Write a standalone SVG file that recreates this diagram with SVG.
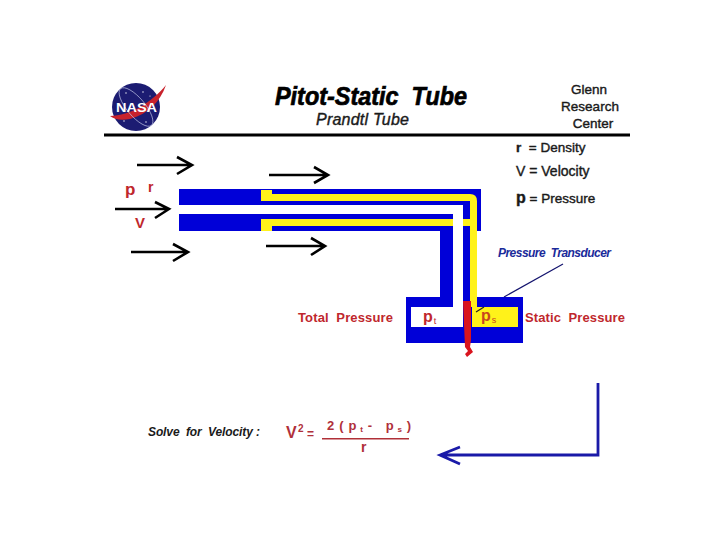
<svg xmlns="http://www.w3.org/2000/svg" width="720" height="540" viewBox="0 0 720 540">
<defs><style>
text{font-family:"Liberation Sans",Arial,sans-serif}
.b{font-weight:bold}
.k{fill:#1a1a1a;font-weight:bold}
.r{fill:#c0272d;font-weight:bold}
.e{fill:#b0303a;font-weight:bold}
.g{fill:#1a1a1a;stroke:#1a1a1a;stroke-width:.4}
.ar{fill:none;stroke:#000;stroke-width:2.6}
.blue{fill:#0000d8}
.yel{fill:#fff21a}
.st{fill:#fff}
</style></defs>
<rect width="720" height="540" fill="#fff"/>
<g id="nasa-logo">
<circle cx="136" cy="107" r="24" fill="#1c1c72"/>
<path d="M110 116C130 116 152 102 166 85C160 102 148 114 130 119C120 121 114 119 110 116Z" fill="#c8222c"/>
<ellipse cx="136" cy="107" rx="24" ry="9" transform="rotate(50 136 107)" fill="none" stroke="#b9bde0" stroke-width=".7"/>
<circle class="st" cx="126" cy="93" r=".7"/><circle class="st" cx="143" cy="92" r=".7"/><circle class="st" cx="150" cy="96" r=".6"/><circle class="st" cx="124" cy="121" r=".7"/><circle class="st" cx="146" cy="122" r=".7"/>
<text x="136.500" y="112" text-anchor="middle" class="b" font-size="12.5" fill="#fff" textLength="41" lengthAdjust="spacingAndGlyphs">NASA</text>
</g>
<g id="header">
<text x="275" y="105" class="b" font-style="italic" font-size="26" fill="#000" stroke="#000" stroke-width=".7" textLength="192" lengthAdjust="spacingAndGlyphs" xml:space="preserve">Pitot-Static  Tube</text>
<text x="316" y="125" font-style="italic" font-size="16" class="g" textLength="93" lengthAdjust="spacing">Prandtl Tube</text>
<text x="589" y="94" text-anchor="middle" font-size="13.5" class="g">Glenn</text>
<text x="590" y="111" text-anchor="middle" font-size="13.5" class="g">Research</text>
<text x="593" y="128" text-anchor="middle" font-size="13.5" class="g">Center</text>
<rect x="104" y="133.500" width="526" height="3" fill="#000"/>
</g>
<g id="legend">
<text x="516" y="152" font-size="13.5" class="g" xml:space="preserve"><tspan class="b">r</tspan>  = Density</text>
<text x="516" y="176" font-size="14" class="g">V = Velocity</text>
<text x="516" y="203" font-size="13.500" class="g"><tspan class="b" font-size="16">p</tspan> = Pressure</text>
</g>
<g id="freestream-labels">
<text x="125" y="195" class="r" font-size="17">p</text>
<text x="148" y="192" class="r" font-size="14">r</text>
<text x="135" y="228" class="r" font-size="15">V</text>
</g>
<g id="pitot-tube">
<path class="blue" d="M179 189H481V231H477V297H523V343H406V297H440V231H179V214H453V205H179Z"/>
<rect x="411" y="307" width="52" height="20" fill="#fff"/>
<path class="yel" d="M261 190H272V194H470Q477 194 477 201V307H518V327H472V307H470V201H272V201H261Z"/>
<path class="yel" d="M261 219H470V226H272V231H261Z"/>
<rect x="453" y="205" width="10" height="102" fill="#fff"/>
<path d="M463 301H471V340L470 347L473 352L467 357L465 354L468 351L465 347Z" fill="#d9141e"/>
</g>
<g id="labels">
<text x="298" y="322" class="r" font-size="13" textLength="95" lengthAdjust="spacing" xml:space="preserve">Total  Pressure</text>
<text x="423" y="322" class="r" font-size="16">p<tspan font-size="9" font-weight="normal" dy="2" dx="1">t</tspan></text>
<text x="481" y="321" font-size="16" class="b" fill="#c8461e">p<tspan font-size="9" font-weight="normal" dy="2" dx="1">s</tspan></text>
<text x="525" y="322" class="r" font-size="13" textLength="100" lengthAdjust="spacing" xml:space="preserve">Static  Pressure</text>
<text x="498" y="257" class="b" font-style="italic" font-size="12" fill="#1a2a9a" textLength="113" lengthAdjust="spacing" xml:space="preserve">Pressure  Transducer</text>
<text x="148" y="436" class="k" font-style="italic" font-size="12" textLength="112" lengthAdjust="spacing" xml:space="preserve">Solve  for  Velocity :</text>
</g>
<g id="equation">
<text x="286" y="438" class="e" font-size="16">V</text>
<text x="298" y="432" class="e" font-size="10">2</text>
<text x="307" y="438" class="e" font-size="12">=</text>
<text x="327" y="430" class="e" font-size="13" letter-spacing=".7" xml:space="preserve">2 ( p<tspan font-size="8" dy="2"> t</tspan><tspan dy="-2"> -   p</tspan><tspan font-size="8" dy="2"> s</tspan><tspan dy="-2"> )</tspan></text>
<rect x="322" y="438" width="87" height="1.500" fill="#b03038"/>
<text x="361" y="452" class="e" font-size="14">r</text>
</g>
<g id="connectors">
<path class="ar" d="M137 165H192M177 157L192 165L177 174"/>
<path class="ar" d="M269 175H328M314 167L328 175L314 183"/>
<path class="ar" d="M115 209H169M155 202L169 209L155 218"/>
<path class="ar" d="M131 252H188M173 244L188 252L173 261"/>
<path class="ar" d="M266 246H325M311 238L325 246L311 255"/>
<path d="M563 264L504 297" stroke="#14146e" stroke-width="1.200" fill="none"/>
<path d="M476 312L484 307" stroke="#222" stroke-width="1.200" fill="none"/>
<path d="M598 383V455H440M460 447L440 455L460 464" fill="none" stroke="#1a1aa8" stroke-width="2.800"/>
</g>
</svg>
